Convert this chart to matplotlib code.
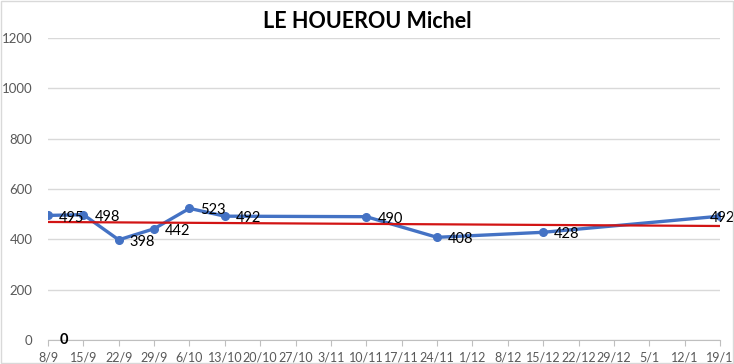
import matplotlib
matplotlib.use("Agg")
import matplotlib.pyplot as plt
import numpy as np

categories = ["8/9", "15/9", "22/9", "29/9", "6/10", "13/10", "20/10", "27/10", "3/11", "10/11",
              "17/11", "24/11", "1/12", "8/12", "15/12", "22/12", "29/12", "5/1", "12/1", "19/1"]
values = [495, 498, 398, 442, 523, 492, None, None, None, 490,
          None, 408, None, None, 428, None, None, None, None, 492]
trend_start = 469
trend_end = 453
zero_label = 0

plt.rcParams['font.family'] = ['Lato', 'DejaVu Sans']

fig = plt.figure(figsize=(7.34, 3.64), dpi=100)
ax = fig.add_axes([48/734, 24/364, (720-48)/734, (340-38)/364])

idx = [i for i, v in enumerate(values) if v is not None]
vals = [values[i] for i in idx]

ax.plot(idx, vals, color='#4472C4', lw=2.4, marker='o', ms=5.5, zorder=3, solid_capstyle='round')
ax.plot([0, len(categories) - 1], [trend_start, trend_end], color='#D21414', lw=1.6, zorder=4)

last = len(categories) - 1
for i, v in zip(idx, vals):
    dx = -7.5 if i == last else 8
    ax.annotate(str(v), (i, v), xytext=(dx, -1.5), textcoords='offset points',
                ha='left', va='center', fontsize=10.5, color='black', zorder=5,
                annotation_clip=False)

ax.text(0.45, zero_label, str(zero_label), ha='center', va='center', fontsize=10.5,
        fontweight='bold', color='black')

ax.set_xlim(0, len(categories) - 1)
ax.set_ylim(0, 1200)
ax.set_yticks(np.arange(0, 1201, 200))
ax.set_xticks(range(len(categories)))
ax.set_xticklabels(categories)
ax.grid(axis='y', color='#D9D9D9', lw=1)
ax.set_axisbelow(True)
for s in ['top', 'right', 'left']:
    ax.spines[s].set_visible(False)
ax.spines['bottom'].set_color('#BFBFBF')
ax.spines['bottom'].set_zorder(1)
ax.tick_params(axis='y', length=0, pad=11, labelsize=9.5, labelcolor='#595959')
ax.tick_params(axis='x', length=4, color='#BFBFBF', pad=4, labelsize=9, labelcolor='#595959')

fig.text(0.5, 1 - 22/364, "LE HOUEROU Michel", ha='center', va='center',
         fontsize=15.5, fontweight='bold', color='black')

# outer border
fig.patches.append(plt.Rectangle((0.001, 0.002), 0.997, 0.995, transform=fig.transFigure,
                                 fill=False, edgecolor='#D9D9D9', lw=1))

fig.savefig("out.png", dpi=100)
